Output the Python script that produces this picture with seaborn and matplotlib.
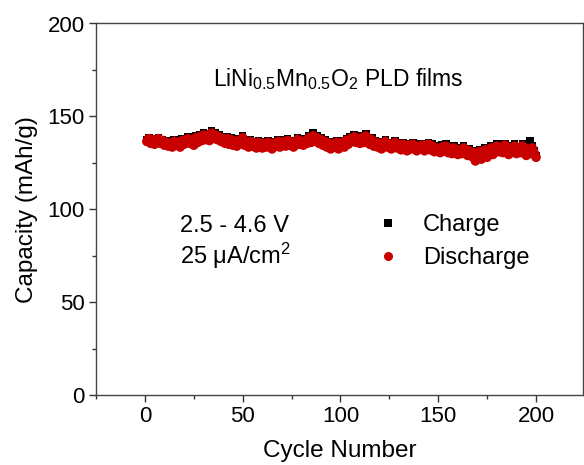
import matplotlib
matplotlib.use("Agg")
import matplotlib.pyplot as plt
from matplotlib.lines import Line2D
from matplotlib.ticker import MultipleLocator
import seaborn as sns
import pandas as pd

cycles = list(range(1, 201))

charge = [
    137.5, 138.5, 136.5, 138, 136.5, 137, 138.5, 136.5, 137.5, 135.5,
    137, 135, 136.5, 134.5, 137.5, 135.5, 137, 134.5, 138, 136,
    137.5, 139, 136.5, 138, 135.5, 139.5, 137, 140, 138, 141,
    138.5, 140.5, 138, 142, 139.5, 141, 138.5, 140, 137.5, 139,
    136.5, 139, 136, 138.5, 135.5, 137.5, 135, 138, 136.5, 139.5,
    135.5, 137, 134.5, 137.5, 135, 136.5, 134, 137, 135.5, 134,
    136.5, 134.5, 137, 135, 133.5, 136.5, 135, 137.5, 134.5, 136,
    137.5, 135, 138, 135.5, 137, 134.5, 136.5, 138.5, 136, 137.5,
    135.5, 138, 136.5, 139.5, 137, 141, 138, 139.5, 136.5, 138.5,
    135.5, 137.5, 134.5, 136.5, 133.5, 136, 134.5, 137, 133.5, 135.5,
    137, 134.5, 138, 136, 139, 137.5, 140, 137, 138.5, 136.5,
    139.5, 137, 140.5, 138, 136, 138.5, 135, 137, 134.5, 136.5,
    133.5, 136, 137.5, 134.5, 136, 133.5, 135.5, 137, 134, 135.5,
    133, 136, 134.5, 132.5, 135.5, 133.5, 136, 134, 132.5, 135,
    133.5, 135.5, 132.5, 134.5, 136, 133, 135, 132, 134, 133,
    131.5, 134.5, 132.5, 135, 131.5, 133.5, 131, 134, 132.5, 130.5,
    133, 131, 134, 132, 130, 132.5, 129.5, 131.5, 127, 129.5,
    132, 128, 130.5, 133, 129, 131.5, 134, 130.5, 132.5, 135,
    132, 134, 131.5, 135.5, 133, 130.5, 134, 132, 135, 131,
    133.5, 131.5, 135, 132.5, 130, 133.5, 137, 134, 131.5, 129,
]

discharge = [
    136.5, 138, 135.5, 137.5, 135, 136.5, 138, 135.5, 137, 134.5,
    136, 134, 135.5, 133.5, 136.5, 134.5, 136, 133.5, 137, 135,
    136.5, 138, 135.5, 137, 134.5, 138.5, 136, 139, 137, 140,
    137.5, 139.5, 137, 141, 138.5, 140, 137.5, 139, 136.5, 138,
    135.5, 138, 135, 137.5, 134.5, 136.5, 134, 137, 135.5, 138.5,
    134.5, 136, 133.5, 136.5, 134, 135.5, 133, 136, 134.5, 133,
    135.5, 133.5, 136, 134, 132.5, 135.5, 134, 136.5, 133.5, 135,
    136.5, 134, 137, 134.5, 136, 133.5, 135.5, 137.5, 135, 136.5,
    134.5, 137, 135.5, 138.5, 136, 139.5, 137, 138.5, 135.5, 137.5,
    134.5, 136.5, 133.5, 135.5, 132.5, 135, 133.5, 136, 132.5, 134.5,
    136, 133.5, 137, 135, 138, 136.5, 139, 136, 137.5, 135.5,
    138.5, 136, 139.5, 137, 135, 137.5, 134, 136, 133.5, 135.5,
    132.5, 135, 136.5, 133.5, 135, 132.5, 134.5, 136, 133, 134.5,
    132, 135, 133.5, 131.5, 134.5, 132.5, 135, 133, 131.5, 134,
    132.5, 134.5, 131.5, 133.5, 135, 132, 134, 131, 133, 132,
    130.5, 133.5, 131.5, 134, 130.5, 132.5, 130, 133, 131.5, 129.5,
    132, 130, 133, 131, 129, 131.5, 128.5, 130.5, 126, 128.5,
    131, 127, 129.5, 132, 128, 130.5, 133, 129.5, 131.5, 134,
    131, 133, 130.5, 134.5, 132, 129.5, 133, 131, 134, 130,
    132.5, 130.5, 134, 131.5, 129, 132.5, 130, 133, 130.5, 128,
]

x_ticks = [0, 50, 100, 150, 200]
y_ticks = [0, 50, 100, 150, 200]

sns.set_theme(style="white")
plt.rcParams['font.family'] = ['Liberation Sans', 'DejaVu Sans']
plt.rcParams['mathtext.fontset'] = 'custom'
plt.rcParams['mathtext.rm'] = 'Liberation Sans'
plt.rcParams['mathtext.it'] = 'Liberation Sans:italic'
plt.rcParams['mathtext.bf'] = 'Liberation Sans:bold'
plt.rcParams['text.color'] = 'black'
plt.rcParams['axes.labelcolor'] = 'black'
plt.rcParams['xtick.color'] = 'black'
plt.rcParams['ytick.color'] = 'black'

df = pd.DataFrame({"cycle": cycles, "charge": charge, "discharge": discharge})

fig = plt.figure(figsize=(5.84, 4.65), dpi=100)
ax = fig.add_axes([96 / 584, 1 - 395 / 465, 487 / 584, (395 - 23.5) / 465])

sns.scatterplot(data=df, x="cycle", y="charge", marker="s", s=30, color="black",
                edgecolor="none", linewidth=0, ax=ax, zorder=2)
sns.scatterplot(data=df, x="cycle", y="discharge", marker="o", s=48, color="#c80000",
                edgecolor="none", linewidth=0, ax=ax, zorder=3)

ax.set_xlim(-25, 224)
ax.set_ylim(0, 200)
ax.set_xticks(x_ticks)
ax.set_yticks(y_ticks)
ax.xaxis.set_minor_locator(MultipleLocator(25))
ax.yaxis.set_minor_locator(MultipleLocator(25))
ax.tick_params(axis="both", which="major", direction="out", length=5, width=1,
               labelsize=16, color="#333333", bottom=True, left=True, top=False, right=False, pad=3)
ax.tick_params(axis="both", which="minor", direction="out", length=3, width=1,
               color="#333333", bottom=True, left=True, top=False, right=False)
for sp in ax.spines.values():
    sp.set_color("#444444")
    sp.set_linewidth(1.0)

ax.set_xlabel("Cycle Number", fontsize=17.5, labelpad=9)
ax.set_ylabel("Capacity (mAh/g)", fontsize=17.5, labelpad=7)

ax.text(99, 170, r"LiNi$_{\mathrm{0.5}}$Mn$_{\mathrm{0.5}}$O$_{\mathrm{2}}$ PLD films",
        fontsize=16.5, ha="center", va="center")
ax.text(18, 87.9, "2.5 - 4.6 V", fontsize=17, ha="left", va="baseline")
ax.text(18, 70.6, "25 μA/cm$^{\\mathrm{2}}$", fontsize=17, ha="left", va="baseline")

handles = [
    Line2D([], [], linestyle="none", marker="s", markersize=5.5, color="black",
           markeredgewidth=0, label="Charge"),
    Line2D([], [], linestyle="none", marker="o", markersize=6.5, color="#c80000",
           markeredgewidth=0, label="Discharge"),
]
ax.legend(handles=handles, loc="upper left", bbox_to_anchor=(0.575, 0.486),
          frameon=False, fontsize=17, handlelength=1.0, handletextpad=1.0,
          labelspacing=0.45, borderpad=0, borderaxespad=0)

fig.savefig("out.png", dpi=100)
